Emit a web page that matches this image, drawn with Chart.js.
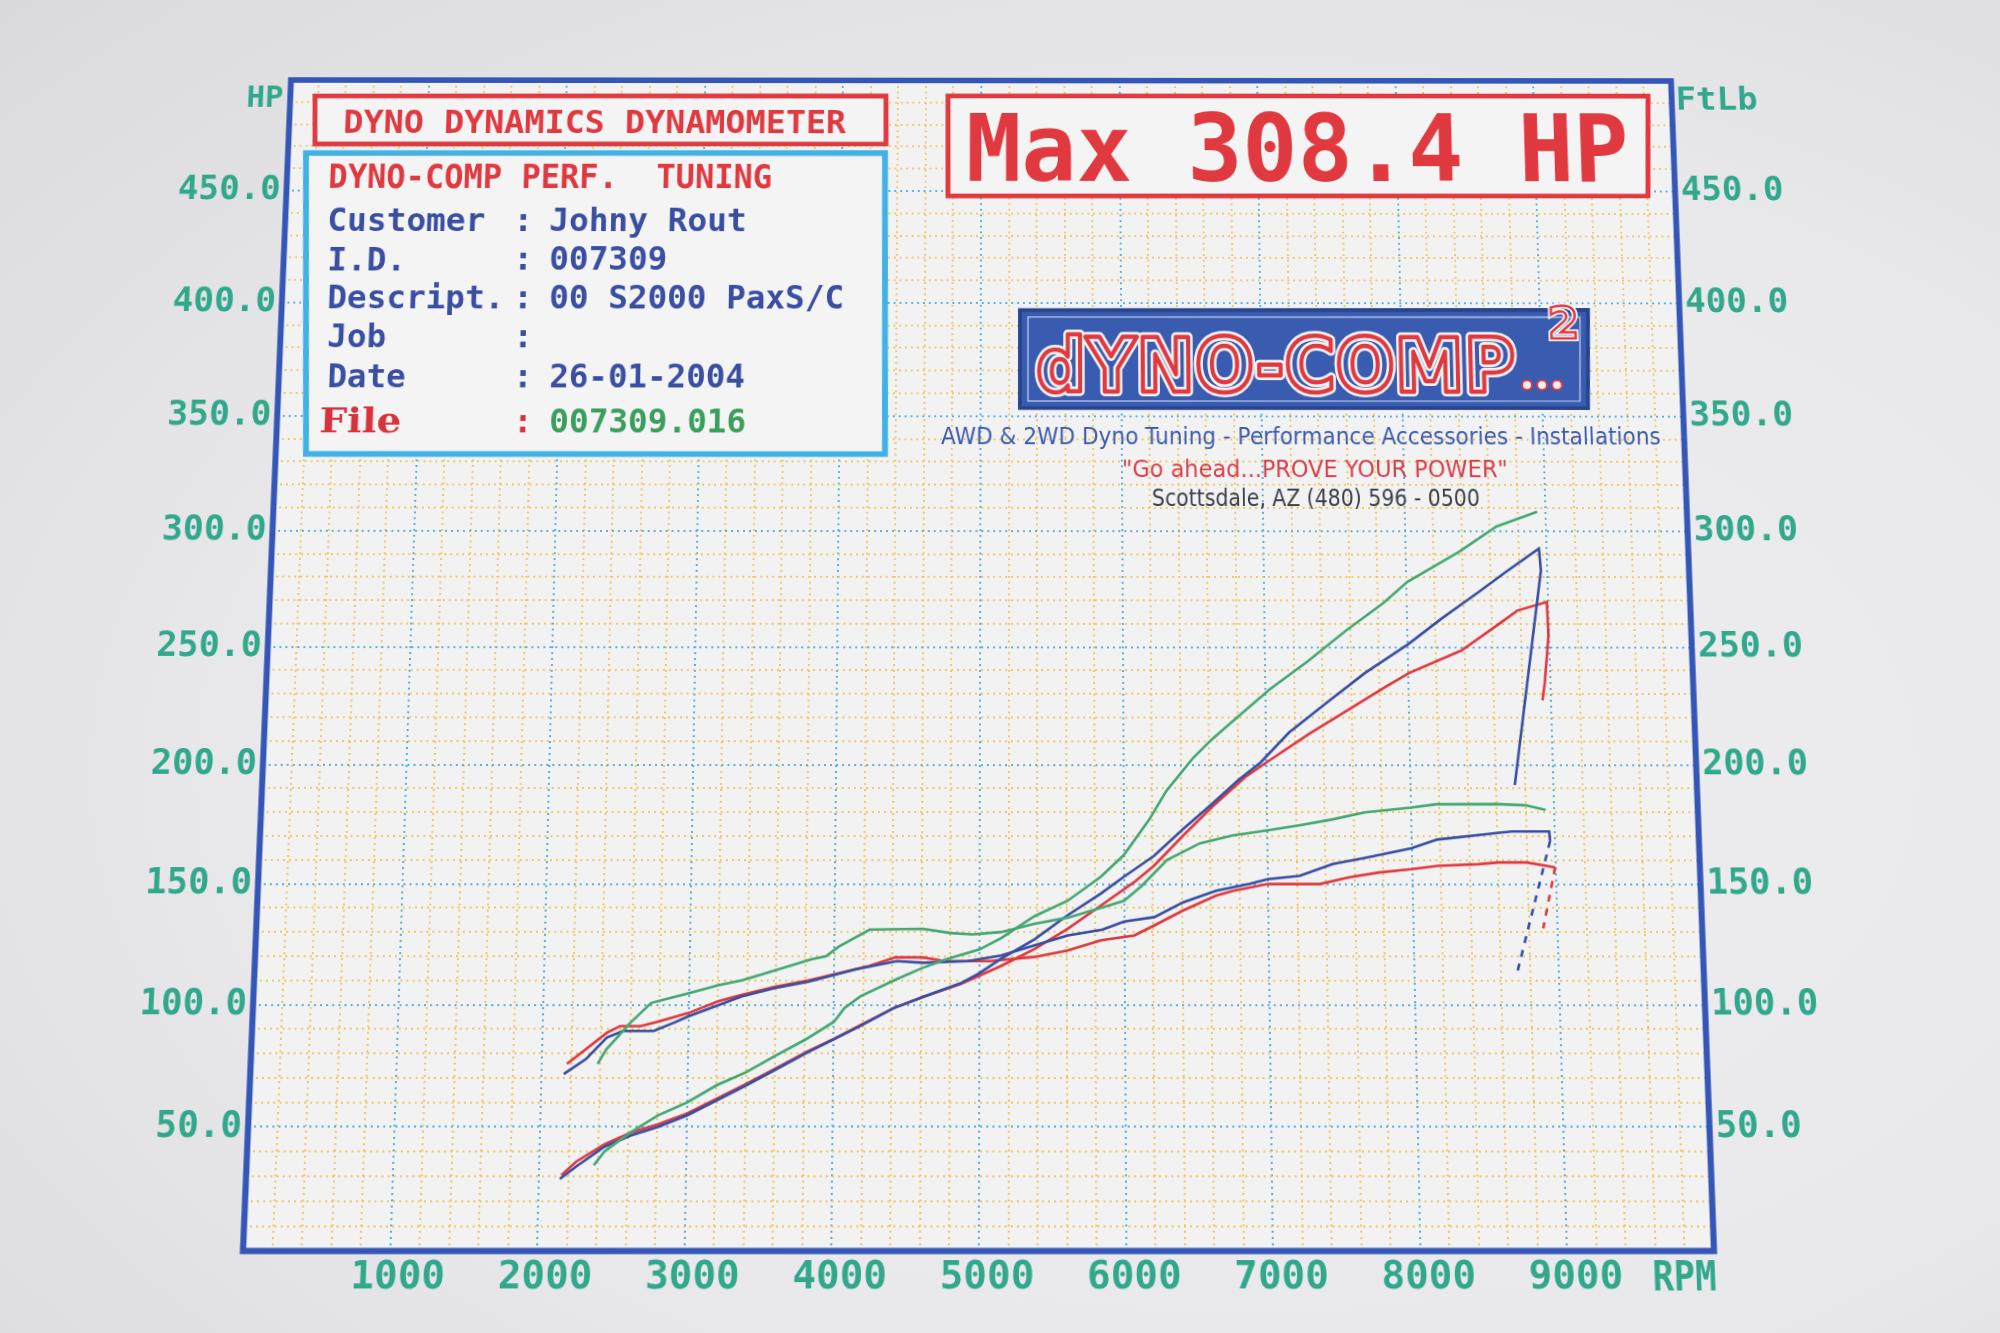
<!DOCTYPE html>
<html>
<head>
<meta charset="utf-8">
<title>Dyno Dynamics Dynamometer - 007309</title>
<script src="https://cdn.jsdelivr.net/npm/chart.js@4.4.1/dist/chart.umd.min.js"></script>
<style>
  html, body { margin: 0; padding: 0; }
  body {
    width: 2000px; height: 1333px; overflow: hidden; position: relative;
    background: radial-gradient(ellipse at 62% 58%, #eeeef0 0%, #e9e9eb 55%, #dadadc 100%);
  }
  #dyno { position: absolute; left: 0; top: 0; transform-origin: 0 0; }
</style>
</head>
<body>
<canvas id="dyno" width="2000" height="1333"></canvas>
<script>
// Tick labels
const rpmTicks = [1000, 2000, 3000, 4000, 5000, 6000, 7000, 8000, 9000];
const hpTicks = [50, 100, 150, 200, 250, 300, 350, 400, 450];

// Run 1 (green)
const greenPowerRpm = [2370, 2440, 2620, 2800, 3000, 3200, 3400, 3600, 3800, 4000, 4070, 4180, 4410, 4600, 4770, 5000, 5150, 5380, 5610, 5840, 6000, 6180, 6300, 6490, 6620, 6760, 7030, 7300, 7570, 7840, 8010, 8380, 8650, 8940];
const greenPowerHp = [34.5, 40, 48, 54.7, 60, 67, 72.3, 79, 85.5, 93, 98.6, 103.4, 110, 115, 118.7, 122.8, 127.5, 136.6, 143, 153, 162, 177, 189, 203, 210.7, 218, 232, 244, 257, 269, 278, 291, 302, 308.4];
const greenTorqueRpm = [2380, 2440, 2600, 2740, 3000, 3200, 3360, 3530, 3840, 3940, 4030, 4240, 4610, 4800, 4950, 5150, 5380, 5610, 5840, 6000, 6120, 6300, 6530, 6760, 7000, 7220, 7450, 7680, 8000, 8180, 8600, 8800, 8940];
const greenTorqueFtlb = [75.7, 81.8, 92.6, 100.7, 104.7, 108, 110, 113, 118.7, 120, 124, 131, 131.3, 129.6, 129, 130, 133.4, 136, 140, 143, 149, 160, 167, 170.3, 172.4, 174.5, 177, 180, 182, 183.4, 183.5, 183, 181];

// Run 2 (blue)
const bluePowerRpm = [2140, 2250, 2440, 2620, 2800, 3000, 3200, 3400, 3590, 3820, 4000, 4180, 4410, 4620, 4870, 5000, 5150, 5380, 5610, 5840, 6000, 6210, 6410, 6620, 6800, 6960, 7160, 7430, 7700, 8010, 8240, 8510, 8700, 8945, 8955, 8730];
const bluePowerHp = [29, 34, 42, 46.6, 50, 54.7, 60.8, 66.9, 73, 80.4, 85.8, 91.2, 98.6, 103.4, 108.8, 113, 119, 127, 137, 146, 153, 161.7, 172.7, 183.7, 193.4, 201, 213.6, 226.4, 239, 251.4, 262, 273.6, 282, 292.5, 283, 191.5];
const blueTorqueRpm = [2150, 2300, 2440, 2550, 2760, 2900, 3000, 3180, 3360, 3590, 3820, 4150, 4430, 4610, 4920, 5150, 5380, 5610, 5850, 6000, 6210, 6410, 6640, 6870, 7000, 7220, 7450, 7680, 8000, 8180, 8600, 8700, 8960, 8965];
const blueTorqueFtlb = [71.6, 77.7, 86.5, 89.2, 89.2, 92.6, 95.3, 99.3, 103.4, 106.8, 109.5, 114.6, 118, 117.3, 118, 120.3, 124.5, 128.6, 131, 134.4, 136.2, 142.4, 147.2, 150, 152, 153.4, 158.3, 161, 165, 168.6, 171.4, 172, 172, 168];
const blueCoastRpm = [8965, 8713];
const blueCoastFtlb = [168, 113.5];

// Run 3 (red)
const redPowerRpm = [2150, 2250, 2440, 2620, 2800, 3000, 3200, 3400, 3590, 3820, 4000, 4180, 4410, 4620, 4870, 5000, 5150, 5380, 5610, 5840, 6070, 6210, 6410, 6620, 6850, 7000, 7300, 7570, 7840, 8010, 8380, 8650, 8780, 8990, 8995, 8960, 8940];
const redPowerHp = [30.5, 36, 43, 47.8, 51, 55.5, 61.5, 67.5, 73.5, 80.8, 86, 91.5, 98.6, 103.4, 108.5, 112, 116, 123, 131.4, 141, 150.7, 157.6, 170, 182.4, 194.8, 201, 213, 223, 233, 239, 248.6, 260, 265.7, 269.4, 255, 235, 227.4];
const redTorqueRpm = [2170, 2300, 2440, 2530, 2670, 2800, 3000, 3200, 3360, 3590, 3820, 4240, 4420, 4610, 4760, 5070, 5380, 5610, 5840, 6070, 6210, 6410, 6640, 6760, 7000, 7360, 7560, 7770, 8000, 8180, 8460, 8600, 8800, 8995];
const redTorqueFtlb = [75.7, 81.8, 88.5, 91.2, 91.2, 93.2, 96.6, 101.4, 104, 107.4, 110, 116, 119.5, 119.5, 118, 118, 119.7, 122.4, 126.6, 128.6, 132.8, 139, 145.2, 147.2, 150, 150, 152.8, 154.8, 156.2, 157.6, 158.3, 159, 159, 157];
const redCoastRpm = [8995, 8900];
const redCoastFtlb = [157, 131.6];

// Printout header text
const infoRows = [
    ['Customer', 'Johny Rout', 231],
    ['I.D.', '007309', 270],
    ['Descript.', '00 S2000 PaxS/C', 308],
    ['Job', '', 347],
    ['Date', '26-01-2004', 387]
];

const GREEN = '#45a874';
const BLUE = '#3a4fa2';
const RED = '#e0393f';
const TEAL = '#31a88c';
const PAPER = '#f4f4f5';
const MONO = 'bold # "DejaVu Sans Mono", monospace';

// corners of the plot frame as they sit on the photographed sheet (TL, TR, BL, BR)
const sheetCorners = [[291, 80], [1671, 81], [243, 1251], [1714, 1251]];

function points(xs, ys) {
    return xs.map(function(x, i) { return { x: x, y: ys[i] }; });
}

// 4-point projective transform, solved with plain gaussian elimination
function solveHomography(src, dst) {
    const A = [], b = [];
    for (let i = 0; i < 4; i++) {
        const x = src[i][0], y = src[i][1], u = dst[i][0], v = dst[i][1];
        A.push([x, y, 1, 0, 0, 0, -u * x, -u * y]); b.push(u);
        A.push([0, 0, 0, x, y, 1, -v * x, -v * y]); b.push(v);
    }
    for (let c = 0; c < 8; c++) {
        let p = c;
        for (let r = c + 1; r < 8; r++) if (Math.abs(A[r][c]) > Math.abs(A[p][c])) p = r;
        [A[c], A[p]] = [A[p], A[c]];
        [b[c], b[p]] = [b[p], b[c]];
        for (let r = 0; r < 8; r++) {
            if (r === c) continue;
            const f = A[r][c] / A[c][c];
            for (let k = c; k < 8; k++) A[r][k] -= f * A[c][k];
            b[r] -= f * b[c];
        }
    }
    return b.map(function(v, i) { return v / A[i][i]; });
}

function applyH(h, x, y) {
    const w = h[6] * x + h[7] * y + 1;
    return { x: (h[0] * x + h[1] * y + h[2]) / w, y: (h[3] * x + h[4] * y + h[5]) / w };
}

let toSheet = null, toFlat = null;
function F(x, y) { return applyH(toFlat, x, y); }

function rectPath(ctx, x1, y1, x2, y2) {
    const p = [F(x1, y1), F(x2, y1), F(x2, y2), F(x1, y2)];
    ctx.beginPath();
    ctx.moveTo(p[0].x, p[0].y);
    for (let i = 1; i < 4; i++) ctx.lineTo(p[i].x, p[i].y);
    ctx.closePath();
}

// text placed by sheet coords: left x, baseline, cap height, optional width to fit
function putText(ctx, str, x, base, cap, color, font, width) {
    const p = F(x, base), q = F(x, base - cap);
    ctx.font = font.replace('#', ((p.y - q.y) / 0.73).toFixed(1) + 'px');
    ctx.fillStyle = color;
    ctx.textAlign = 'left';
    ctx.textBaseline = 'alphabetic';
    ctx.save();
    ctx.translate(p.x, p.y);
    if (width) {
        const r = F(x + width, base);
        ctx.scale((r.x - p.x) / ctx.measureText(str).width, 1);
    }
    ctx.fillText(str, 0, 0);
    ctx.restore();
}

const perspective = {
    id: 'perspective',
    afterLayout(chart) {
        const a = chart.chartArea;
        const flat = [[a.left, a.top], [a.right, a.top], [a.left, a.bottom], [a.right, a.bottom]];
        toSheet = solveHomography(flat, sheetCorners);
        toFlat = solveHomography(sheetCorners, flat);
    }
};

const printout = {
    id: 'printout',
    beforeDraw(chart) {
        const ctx = chart.ctx, a = chart.chartArea;
        ctx.save();
        ctx.fillStyle = '#f2f2f3';
        ctx.fillRect(a.left, a.top, a.right - a.left, a.bottom - a.top);
        ctx.restore();
    },
    beforeDatasetsDraw(chart) {
        const ctx = chart.ctx;
        ctx.save();

        // unit captions at the ends of the axes
        putText(ctx, 'HP', 246, 107, 22, TEAL, MONO, 37);
        putText(ctx, 'FtLb', 1676, 110, 23, TEAL, MONO, 82);
        putText(ctx, 'RPM', 1653, 1291, 30, TEAL, MONO, 64);

        // title strip
        rectPath(ctx, 315, 96, 886, 144);
        ctx.fillStyle = PAPER; ctx.fill();
        ctx.lineWidth = 5; ctx.strokeStyle = RED; ctx.stroke();
        putText(ctx, 'DYNO DYNAMICS DYNAMOMETER', 343, 133, 23, RED, MONO, 503);

        // customer box
        rectPath(ctx, 306, 153, 885, 454);
        ctx.fillStyle = PAPER; ctx.fill();
        ctx.lineWidth = 6; ctx.strokeStyle = '#42b1e6'; ctx.stroke();
        putText(ctx, 'DYNO-COMP PERF.  TUNING', 328, 188, 24, RED, MONO, 444);
        infoRows.forEach(function(row) {
            putText(ctx, row[0], 327, row[2], 23, BLUE, MONO);
            putText(ctx, ':', 513, row[2], 23, BLUE, MONO);
            if (row[1]) putText(ctx, row[1], 549, row[2], 23, BLUE, MONO);
        });
        putText(ctx, 'File', 319, 432, 25, '#d8323a', 'bold # "DejaVu Serif", serif', 82);
        putText(ctx, ':', 513, 432, 23, '#d8323a', MONO);
        putText(ctx, '007309.016', 549, 432, 23, '#3a9f5c', MONO, 197);

        // max power box
        rectPath(ctx, 948, 96, 1648, 196);
        ctx.fillStyle = PAPER; ctx.fill();
        ctx.lineWidth = 5; ctx.strokeStyle = RED; ctx.stroke();
        putText(ctx, 'Max 308.4 HP', 966, 181, 68, RED, MONO, 664);

        // dyno-comp plate
        rectPath(ctx, 1020, 310, 1588, 408);
        ctx.fillStyle = '#3a5cb0'; ctx.fill();
        ctx.lineWidth = 4; ctx.strokeStyle = '#2a4590'; ctx.stroke();
        rectPath(ctx, 1028, 317, 1580, 401);
        ctx.lineWidth = 1.5; ctx.strokeStyle = '#a9bde6'; ctx.stroke();
        const p = F(1036, 391), q = F(1036, 337), r = F(1516, 391);
        ctx.font = 'bold ' + ((p.y - q.y) / 0.73).toFixed(1) + 'px "DejaVu Sans", sans-serif';
        ctx.save();
        ctx.translate(p.x, p.y);
        ctx.scale((r.x - p.x) / ctx.measureText('dYNO-COMP').width, 1);
        ctx.lineJoin = 'round';
        ctx.lineWidth = 10; ctx.strokeStyle = '#f2f2f2'; ctx.strokeText('dYNO-COMP', 0, 0);
        ctx.lineWidth = 4.5; ctx.strokeStyle = RED; ctx.strokeText('dYNO-COMP', 0, 0);
        ctx.restore();
        [1527, 1542, 1557].forEach(function(x) {
            const d = F(x, 385);
            ctx.beginPath(); ctx.arc(d.x, d.y, 5, 0, Math.PI * 2);
            ctx.fillStyle = '#f2f2f2'; ctx.fill();
            ctx.lineWidth = 2; ctx.strokeStyle = RED; ctx.stroke();
        });
        const s = F(1548, 338), t = F(1548, 306);
        ctx.font = 'bold ' + ((s.y - t.y) / 0.73).toFixed(1) + 'px "DejaVu Sans", sans-serif';
        ctx.lineWidth = 6; ctx.strokeStyle = '#f2f2f2'; ctx.strokeText('2', s.x, s.y);
        ctx.lineWidth = 2.5; ctx.strokeStyle = RED; ctx.strokeText('2', s.x, s.y);

        // shop lines
        putText(ctx, 'AWD & 2WD Dyno Tuning - Performance Accessories - Installations', 941, 444, 17, '#3d5cb0', '# "DejaVu Sans", sans-serif', 720);
        putText(ctx, '"Go ahead...PROVE YOUR POWER"', 1122, 477, 17, '#d8404c', '# "DejaVu Sans", sans-serif', 386);
        putText(ctx, 'Scottsdale, AZ (480) 596 - 0500', 1152, 506, 17, '#3b3f4a', '# "DejaVu Sans", sans-serif', 328);

        ctx.restore();
    },
    afterDatasetsDraw(chart) {
        const ctx = chart.ctx, a = chart.chartArea;
        ctx.save();
        ctx.lineWidth = 6;
        ctx.strokeStyle = '#3456b6';
        ctx.strokeRect(a.left, a.top, a.right - a.left, a.bottom - a.top);
        ctx.restore();
    }
};

function gridColor(major) {
    return function(context) {
        return context.tick && context.tick.value % major === 0 ? '#56b0e4' : '#efc965';
    };
}

function gridDash(major) {
    return function(context) {
        return context.tick && context.tick.value % major === 0 ? [2, 4] : [2, 4];
    };
}

const canvas = document.getElementById('dyno');
const chart = new Chart(canvas, {
    type: 'line',
    data: {
        datasets: [
            { label: 'Run 1 HP', data: points(greenPowerRpm, greenPowerHp), borderColor: GREEN, yAxisID: 'y' },
            { label: 'Run 1 FtLb', data: points(greenTorqueRpm, greenTorqueFtlb), borderColor: GREEN, yAxisID: 'y1' },
            { label: 'Run 2 HP', data: points(bluePowerRpm, bluePowerHp), borderColor: BLUE, yAxisID: 'y' },
            { label: 'Run 2 FtLb', data: points(blueTorqueRpm, blueTorqueFtlb), borderColor: BLUE, yAxisID: 'y1' },
            { label: 'Run 2 coast', data: points(blueCoastRpm, blueCoastFtlb), borderColor: BLUE, borderDash: [7, 7], yAxisID: 'y1' },
            { label: 'Run 3 HP', data: points(redPowerRpm, redPowerHp), borderColor: RED, yAxisID: 'y' },
            { label: 'Run 3 FtLb', data: points(redTorqueRpm, redTorqueFtlb), borderColor: RED, yAxisID: 'y1' },
            { label: 'Run 3 coast', data: points(redCoastRpm, redCoastFtlb), borderColor: RED, borderDash: [7, 7], yAxisID: 'y1' }
        ]
    },
    options: {
        responsive: false,
        animation: false,
        layout: { padding: { left: 150, right: 190, top: 70, bottom: 22 } },
        elements: {
            point: { radius: 0 },
            line: { borderWidth: 2.6, tension: 0, fill: false }
        },
        plugins: {
            legend: { display: false },
            tooltip: { enabled: false }
        },
        scales: {
            x: {
                type: 'linear',
                min: 0,
                max: 10000,
                ticks: {
                    stepSize: 200,
                    maxTicksLimit: 100,
                    autoSkip: false,
                    maxRotation: 0,
                    padding: 3,
                    labelOffset: 8,
                    color: TEAL,
                    font: { family: 'DejaVu Sans Mono', size: 38, weight: 'bold' },
                    callback: function(v) {
                        return rpmTicks.includes(v) ? String(v) : '';
                    }
                },
                grid: { color: gridColor(1000), lineWidth: 2, drawTicks: false, borderDash: gridDash(1000) },
                border: { display: false, dash: gridDash(1000) }
            },
            y: {
                position: 'left',
                min: 0,
                max: 500,
                ticks: {
                    stepSize: 10,
                    maxTicksLimit: 100,
                    autoSkip: false,
                    padding: 6,
                    color: TEAL,
                    font: { family: 'DejaVu Sans Mono', size: 35, weight: 'bold' },
                    callback: function(v) {
                        return hpTicks.includes(v) ? v.toFixed(1) : '';
                    }
                },
                grid: { color: gridColor(50), lineWidth: 2, drawTicks: false, borderDash: gridDash(50) },
                border: { display: false, dash: gridDash(50) }
            },
            y1: {
                position: 'right',
                min: 0,
                max: 500,
                ticks: {
                    stepSize: 10,
                    maxTicksLimit: 100,
                    autoSkip: false,
                    padding: 6,
                    color: TEAL,
                    font: { family: 'DejaVu Sans Mono', size: 35, weight: 'bold' },
                    callback: function(v) {
                        return hpTicks.includes(v) ? v.toFixed(1) : '';
                    }
                },
                grid: { drawOnChartArea: false, drawTicks: false },
                border: { display: false }
            }
        }
    },
    plugins: [perspective, printout]
});

// lay the flat chart onto the photographed sheet
const h = toSheet;
canvas.style.transform = 'matrix3d(' + [h[0], h[3], 0, h[6], h[1], h[4], 0, h[7], 0, 0, 1, 0, h[2], h[5], 0, 1].join(',') + ')';
</script>
</body>
</html>
